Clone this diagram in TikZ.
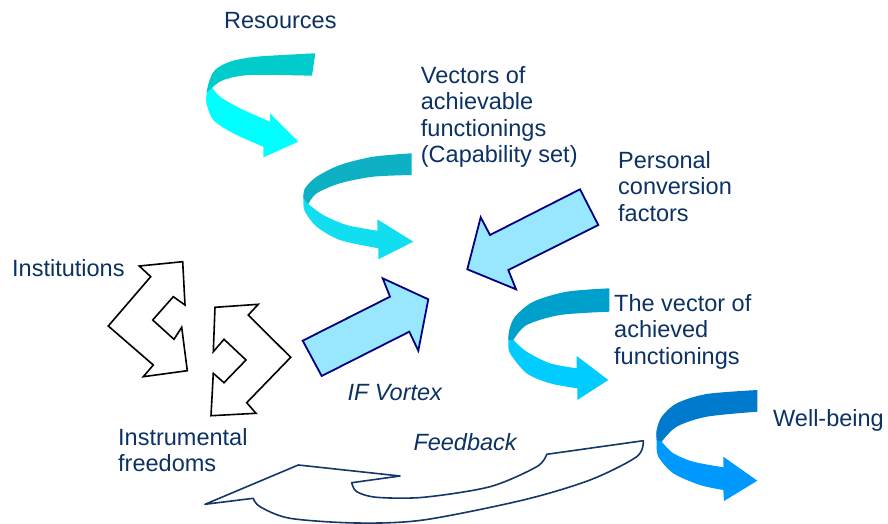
\documentclass[tikz,border=0pt]{standalone}
\usepackage{fontspec}
\setmainfont{Liberation Sans}
\definecolor{txt}{RGB}{12,50,100}
\definecolor{cAd}{RGB}{0,204,204}
\definecolor{cAl}{RGB}{0,255,255}
\definecolor{cBd}{RGB}{14,176,196}
\definecolor{cBl}{RGB}{18,222,242}
\definecolor{cCd}{RGB}{0,160,204}
\definecolor{cCl}{RGB}{0,204,255}
\definecolor{cDd}{RGB}{0,122,204}
\definecolor{cDl}{RGB}{0,153,255}
\definecolor{vfill}{RGB}{153,230,255}
\definecolor{vline}{RGB}{0,0,128}
\definecolor{fbline}{RGB}{20,55,105}
\newcommand{\txtlines}[1]{\begin{tabular}[t]{@{}l@{}}#1\end{tabular}}
\tikzset{
  lbl/.style={anchor=base west, inner sep=0pt, text=txt, font=\fontsize{23.5}{26.5}\selectfont},
  ilbl/.style={lbl, font=\fontsize{23.5}{26.5}\selectfont\itshape},
  bigarrow/.style={fill=vfill, draw=vline, line width=1.8pt, line join=miter},
  outlinearrow/.style={fill=white, draw=black, line width=1.6pt, line join=miter},
  fbarrow/.style={fill=white, draw=fbline, line width=1.6pt, line join=round},
}
\begin{document}
\begin{tikzpicture}[x=1pt,y=-1pt]
\useasboundingbox (0,0) rectangle (888,524);

% ---- curl 1 (Resources)
\fill[cAl] (210,81.7) -- plot[smooth] coordinates {(210,81.7) (206.5,95) (206.5,103.3) (213.3,120) (233.3,133.3) (263.3,146.7)}
  -- (263.3,157.3) -- (298.3,141.7) -- (270,113.3) -- (270,121.7)
  -- plot[smooth] coordinates {(270,121.7) (240,108.3) (220,96.7) (211.7,87)} -- cycle;
\fill[cAd] plot[smooth] coordinates {(315.3,53.3) (256.7,56.7) (230,61.7) (215,70) (209,81.7) (206.5,93)}
  -- plot[smooth] coordinates {(211.7,88) (223.3,80) (250,75) (312,75.7)} -- cycle;

% ---- curl 2 (Vectors)
\fill[cBl] (305,188) -- plot[smooth] coordinates {(303.5,196) (303.3,201.7) (305,211.7) (316.7,226.7) (340,240) (378.3,248.3)}
  -- (378.3,259.3) -- (413.3,241.7) -- (377.3,219.3) -- (377.3,230.7)
  -- plot[smooth] coordinates {(377.3,230.7) (346.7,225) (323.3,215) (308.3,204)} -- cycle;
\fill[cBd] plot[smooth] coordinates {(411.7,153.3) (373.3,156.7) (340,165) (316.7,176.7) (305,188.3) (303.3,198)}
  -- plot[smooth] coordinates {(308.3,204) (316.7,193.3) (340,183.3) (373.3,176.7) (411.7,175)} -- cycle;

% ---- curl 3 (achieved)
\fill[cCl] (509.3,330) -- plot[smooth] coordinates {(508.5,338) (508.5,342) (510,353.3) (526.7,373.3) (550,383.3) (577.3,388.3)}
  -- (577.3,400) -- (608.3,380) -- (576.7,356) -- (576.7,368.3)
  -- plot[smooth] coordinates {(576.7,368.3) (550,363.3) (526.7,351.7) (513.3,340)} -- cycle;
\fill[cCd] plot[smooth] coordinates {(609.3,288.3) (566.7,291.7) (533.3,301.7) (515,316.7) (509.3,330) (508.3,340)}
  -- plot[smooth] coordinates {(513.3,340) (526.7,325) (560,315) (609.3,311.7)} -- cycle;

% ---- curl 4 (Well-being)
\fill[cDl] (656.7,430) -- plot[smooth] coordinates {(656.7,438) (656.7,444) (658.3,456.7) (673.3,473.3) (700,485) (723.3,490)}
  -- (724,501) -- (757.3,480.7) -- (723.3,456.7) -- (723.3,467.3)
  -- plot[smooth] coordinates {(723.3,467.3) (693.3,461.7) (673.3,453.3) (661.7,441.7)} -- cycle;
\fill[cDd] plot[smooth] coordinates {(757.3,390) (706.7,394) (676.7,403.3) (661.7,416.7) (656.7,430) (656.7,440)}
  -- plot[smooth] coordinates {(661.7,441.7) (676.7,426.7) (706.7,416.7) (757.3,411.7)} -- cycle;

% ---- big light-blue arrows
\draw[bigarrow] (302.7,340.7) -- (390,296.7) -- (382.7,278.3) -- (428.3,299.3) -- (418.3,350.7) -- (409.3,331.7) -- (321.7,376) -- cycle;
\draw[bigarrow] (580,189.3) -- (598.3,225) -- (508.3,270) -- (516,289.3) -- (467.3,269.3) -- (480.7,217.3) -- (490,235) -- cycle;

% ---- institutions double arrows
\draw[outlinearrow] (139.3,266) -- (182.7,261.7) -- (185,305) -- (173.3,296.7) -- (152.7,320) -- (174,339.3) -- (181.7,327.3)
  -- (187.3,370.7) -- (143.3,376.7) -- (153.3,365) -- (108.3,326) -- (150.7,276.7) -- cycle;
\draw[outlinearrow] (215,307.3) -- (258.3,304.3) -- (248.3,315) -- (290.7,357.3) -- (246.7,402.7) -- (256,413.3) -- (211,415.7)
  -- (213.3,373.3) -- (224,382.7) -- (246,360) -- (224,339.3) -- (213.3,351.7) -- cycle;

% ---- feedback arrow
\draw[fbarrow] (205,504.3) -- (298.3,465) -- (400,476) -- (351.7,482.7)
  -- plot[smooth] coordinates {(351.7,482.7) (356.7,491.7) (376.7,497.3) (423.3,497.3) (490,486.7) (536.7,466.7) (546.7,454.3)}
  -- (643.3,440.7)
  -- plot[smooth] coordinates {(643.3,440.7) (636.7,456.7) (590,480) (523.3,500) (423.3,520) (356.7,523) (290,518.3) (260,506.7) (253.3,498.3)}
  -- cycle;

% ---- labels
\node[lbl] (resources) at (224,29) {Resources};
\node[lbl] (vectors) at (420.7,83.3) {\txtlines{Vectors of\\achievable\\functionings\\(Capability set)}};
\node[lbl] (personal) at (618,168) {\txtlines{Personal\\conversion\\factors}};
\node[lbl] (institutions) at (12,276) {Institutions};
\node[lbl] (achieved) at (614,311) {\txtlines{The vector of\\achieved\\functionings}};
\node[ilbl] (vortex) at (347.3,400) {IF Vortex};
\node[lbl] (instrumental) at (118,445) {\txtlines{Instrumental\\freedoms}};
\node[ilbl] (feedback) at (413.3,450) {Feedback};
\node[lbl] (wellbeing) at (773,426) {Well-being};
\end{tikzpicture}
\end{document}
